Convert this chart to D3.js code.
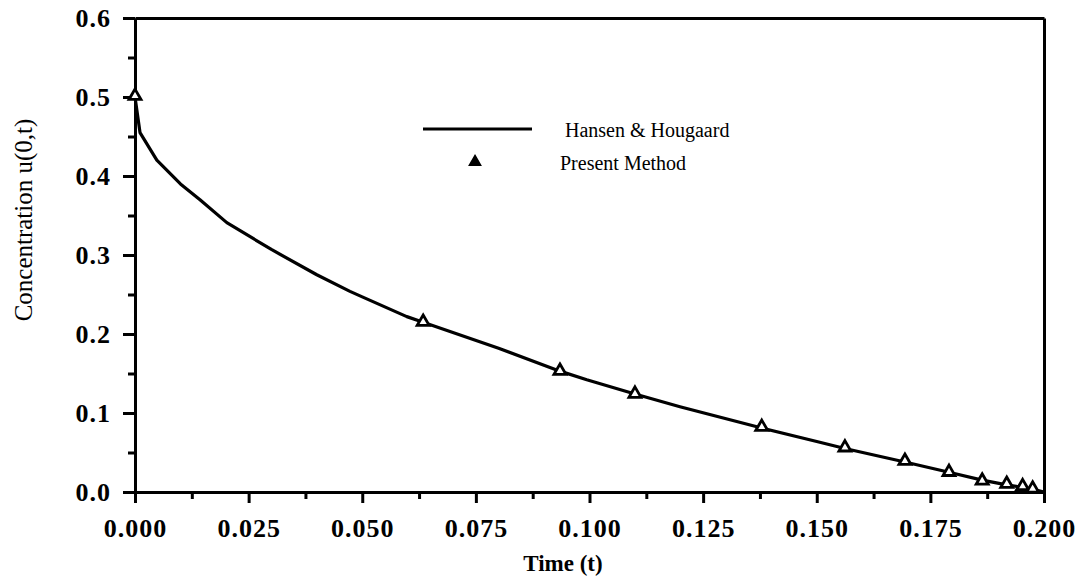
<!DOCTYPE html>
<html>
<head>
<meta charset="utf-8">
<script src="https://cdn.jsdelivr.net/npm/d3@7"></script>
<style>
  html, body { margin: 0; padding: 0; background: #fff; }
  svg { display: block; }
</style>
</head>
<body>
<svg id="chart" width="1078" height="582"></svg>
<script>
// ---- Data ----
const lineTimes  = [0, 0.0011, 0.0048, 0.0100, 0.0143, 0.0202, 0.0300, 0.0400, 0.0473, 0.0500, 0.0598, 0.0634, 0.0800, 0.0935, 0.0994, 0.1100, 0.1199, 0.1379, 0.1500, 0.1562, 0.1694, 0.1791, 0.1864, 0.1918, 0.1953, 0.1985, 0.2000];
const lineValues = [0.500, 0.455, 0.420, 0.390, 0.370, 0.341, 0.307, 0.275, 0.254, 0.247, 0.222, 0.215, 0.182, 0.153, 0.142, 0.124, 0.108, 0.081, 0.064, 0.055, 0.038, 0.025, 0.015, 0.009, 0.006, 0.002, 0.000];
const markTimes  = [0, 0.0634, 0.0935, 0.1100, 0.1379, 0.1562, 0.1694, 0.1791, 0.1864, 0.1918, 0.1953, 0.1975];
const markValues = [0.500, 0.214, 0.152, 0.123, 0.081, 0.055, 0.038, 0.024, 0.013, 0.009, 0.006, 0.003];
const xTicks      = [0, 0.025, 0.05, 0.075, 0.1, 0.125, 0.15, 0.175, 0.2];
const xMinorTicks = [0.0125, 0.0375, 0.0625, 0.0875, 0.1125, 0.1375, 0.1625, 0.1875];
const yTicks      = [0, 0.1, 0.2, 0.3, 0.4, 0.5, 0.6];
const yMinorTicks = [0.05, 0.15, 0.25, 0.35, 0.45, 0.55];
const seriesNames = ["Hansen & Hougaard", "Present Method"];
const xTitle = "Time (t)";
const yTitle = "Concentration u(0,t)";

// ---- Layout ----
const svg = d3.select("#chart");
const L = 135, R = 1044, T = 18, B = 492;
const x = d3.scaleLinear().domain([0, 0.2]).range([L, R]);
const y = d3.scaleLinear().domain([0, 0.6]).range([B, T]);

const tickFont = "'Liberation Serif', 'Times New Roman', serif";

function styleAxis(g) {
  g.selectAll("path.domain").attr("stroke", "#000").attr("stroke-width", 3);
  g.selectAll(".tick line").attr("stroke", "#000").attr("stroke-width", 3);
  g.selectAll(".tick text")
    .attr("font-family", tickFont)
    .attr("font-weight", "bold")
    .attr("font-size", 26)
    .attr("letter-spacing", 1)
    .attr("fill", "#000");
}

// minor ticks
svg.append("g").attr("transform", `translate(0,${B})`)
  .call(d3.axisBottom(x).tickValues(xMinorTicks).tickSize(7).tickSizeOuter(0).tickFormat(""))
  .call(styleAxis);
svg.append("g").attr("transform", `translate(${L},0)`)
  .call(d3.axisLeft(y).tickValues(yMinorTicks).tickSize(7).tickSizeOuter(0).tickFormat(""))
  .call(styleAxis);

// major axes
svg.append("g").attr("transform", `translate(0,${B})`)
  .call(d3.axisBottom(x).tickValues(xTicks).tickSize(11).tickSizeOuter(0).tickPadding(16).tickFormat(d3.format(".3f")))
  .call(styleAxis);
svg.append("g").attr("transform", `translate(${L},0)`)
  .call(d3.axisLeft(y).tickValues(yTicks).tickSize(12).tickSizeOuter(0).tickPadding(12).tickFormat(d3.format(".1f")))
  .call(styleAxis);

// frame (top and right)
svg.append("g").attr("transform", `translate(0,${T})`)
  .call(d3.axisTop(x).tickValues([]).tickSizeOuter(0))
  .call(styleAxis);
svg.append("g").attr("transform", `translate(${R},0)`)
  .call(d3.axisRight(y).tickValues([]).tickSizeOuter(0))
  .call(styleAxis);

// ---- Series ----
const lineData = lineTimes.map((t, i) => [t, lineValues[i]]);
svg.append("path")
  .datum(lineData)
  .attr("fill", "none")
  .attr("stroke", "#000")
  .attr("stroke-width", 3.2)
  .attr("stroke-linejoin", "round")
  .attr("d", d3.line().x(d => x(d[0])).y(d => y(d[1])));

const tri = d3.symbol().type(d3.symbolTriangle).size(62);
const markData = markTimes.map((t, i) => [t, markValues[i]]);
svg.append("g").selectAll("path")
  .data(markData)
  .join("path")
  .attr("transform", d => `translate(${x(d[0])},${y(d[1]) - 1})`)
  .attr("d", tri)
  .attr("fill", "#fff")
  .attr("stroke", "#000")
  .attr("stroke-width", 2.8);

// ---- Legend ----
svg.append("line")
  .attr("x1", 423).attr("x2", 532).attr("y1", 129).attr("y2", 129)
  .attr("stroke", "#000").attr("stroke-width", 3.2);
svg.append("text")
  .attr("x", 565).attr("y", 137)
  .attr("font-family", tickFont).attr("font-size", 20).attr("fill", "#000")
  .text(seriesNames[0]);
svg.append("path")
  .attr("transform", "translate(475,162)")
  .attr("d", d3.symbol().type(d3.symbolTriangle).size(55))
  .attr("fill", "#000").attr("stroke", "#000").attr("stroke-width", 1.5);
svg.append("text")
  .attr("x", 560).attr("y", 170)
  .attr("font-family", tickFont).attr("font-size", 20).attr("fill", "#000")
  .text(seriesNames[1]);

// ---- Titles ----
svg.append("text")
  .attr("x", 563).attr("y", 571)
  .attr("text-anchor", "middle")
  .attr("font-family", tickFont).attr("font-weight", "bold").attr("font-size", 23).attr("fill", "#000")
  .text(xTitle);
svg.append("text")
  .attr("transform", "translate(32,220) rotate(-90)")
  .attr("text-anchor", "middle")
  .attr("font-family", tickFont).attr("font-size", 25).attr("fill", "#000")
  .text(yTitle);
</script>
</body>
</html>
